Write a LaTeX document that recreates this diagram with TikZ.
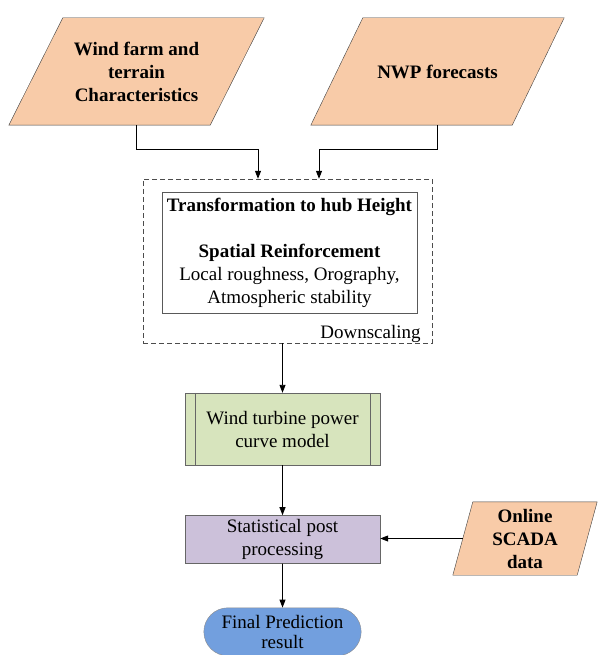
\documentclass[tikz,border=0pt]{standalone}
\usepackage{fontspec}
\setmainfont{Liberation Serif}
\usetikzlibrary{shapes.misc, arrows.meta, positioning, backgrounds}

\definecolor{peach}{HTML}{F8CBA8}
\definecolor{sage}{HTML}{D7E4BD}
\definecolor{lilac}{HTML}{CCC1DA}
\definecolor{skyblue}{HTML}{729FDE}

\begin{document}
\begin{tikzpicture}[
    x=1pt, y=-1pt,
    every node/.style = {font=\fontsize{19}{23}\selectfont},
    inputtext/.style  = {align=center, inner sep=1pt,
                         font=\fontsize{19}{23}\selectfont\bfseries},
    parabox/.style    = {draw=black!75, fill=peach, line join=miter},
    box/.style        = {draw=black!60, minimum width=195pt, align=center},
    arrow/.style      = {-{Triangle[length=8pt, width=6pt]}, line width=0.9pt}
  ]
  \useasboundingbox (0,0) rectangle (600,655);

  % Inputs (parallelograms drawn behind, see below)
  \node[inputtext, minimum width=201pt, minimum height=107pt]
    (farm) at (136.5,71.5) {Wind farm and\\terrain\\Characteristics};
  \node[inputtext, minimum width=201pt, minimum height=107pt]
    (nwp) at (437.5,71.5) {NWP forecasts};

  % Downscaling
  \node[draw=black!70, dash pattern=on 5pt off 3pt, minimum width=289pt,
        minimum height=164pt] (down) at (287.5,261) {};
  \node[draw=black!65, fill=white, minimum width=255pt, minimum height=121pt,
        align=center] (hub) at (289.5,252.5)
    {\textbf{Transformation to hub Height}\\[23pt]\textbf{Spatial Reinforcement}\\
     Local roughness, Orography,\\Atmospheric stability};
  \node[anchor=base east] (dlabel) at ([xshift=-8pt, yshift=5pt]down.south east)
    {Downscaling};

  % Power curve
  \node[box, fill=sage, minimum height=72pt] (curve) at (282.5,429)
    {Wind turbine power\\curve model};
  \draw[black!60] ([xshift=10pt]curve.north west) -- ([xshift=10pt]curve.south west);
  \draw[black!60] ([xshift=-10pt]curve.north east) -- ([xshift=-10pt]curve.south east);

  % Post processing
  \node[box, fill=lilac, minimum height=48pt, below=50pt of curve]
    (post) {Statistical post\\processing};
  \node[inputtext, minimum width=124pt, minimum height=73pt]
    (scada) at (525,538.5) {Online\\SCADA\\data};

  % Output
  \node[rounded rectangle, draw=black!45, fill=skyblue, minimum width=164pt,
        minimum height=48pt, align=center, below=44pt of post]
    (final) {Final Prediction\\[-3pt]result};

  % Parallelogram outlines
  \begin{scope}[on background layer]
    \foreach \n/\s in {farm/27, nwp/26, scada/10}
      \draw[parabox] ([xshift=-\s pt]\n.south west) -- ([xshift=\s pt]\n.north west)
        -- ([xshift=\s pt]\n.north east) -- ([xshift=-\s pt]\n.south east) -- cycle;
  \end{scope}

  % Arrows
  \draw[arrow] (farm.south) -- ++(0,24) -| ([xshift=-29.5pt]down.north);
  \draw[arrow] (nwp.south)  -- ++(0,24) -| ([xshift=31.5pt]down.north);
  \draw[arrow] (down.south -| curve.north) -- (curve.north);
  \draw[arrow] (curve) -- (post);
  \draw[arrow] (post)  -- (final);
  \draw[arrow] (scada.west) -- (scada.west -| post.east);
\end{tikzpicture}
\end{document}
